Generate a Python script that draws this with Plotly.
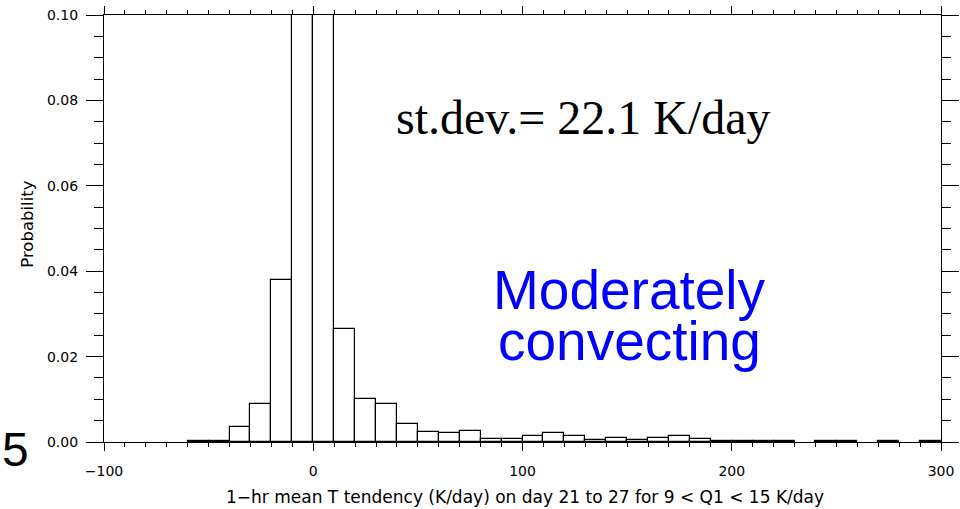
import plotly.graph_objects as go

# Histogram bins (left edges, K/day) and probabilities
bin_left = [-60, -50, -40, -30, -20, -10, 0, 10, 20, 30, 40, 50, 60, 70, 80, 90,
            100, 110, 120, 130, 140, 150, 160, 170, 180, 190, 200, 210, 220,
            240, 250, 270, 290]
prob = [0.0003, 0.0003, 0.0035, 0.0088, 0.0380, 0.4200, 0.4600, 0.0264, 0.0100,
        0.0088, 0.0042, 0.0023, 0.0020, 0.0026, 0.0007, 0.0007,
        0.0013, 0.0020, 0.0013, 0.0004, 0.0010, 0.0004, 0.0010, 0.0014, 0.0008,
        0.0003, 0.0003, 0.0003, 0.0003,
        0.0003, 0.0003, 0.0003, 0.0003]
bin_width = 10

x_ticks = [-100, 0, 100, 200, 300]
x_ticklabels = ["\u2212100", "0", "100", "200", "300"]
y_ticks = [0.00, 0.02, 0.04, 0.06, 0.08, 0.10]
y_ticklabels = ["0.00", "0.02", "0.04", "0.06", "0.08", "0.10"]

centers = [b + bin_width / 2 for b in bin_left]

fig = go.Figure()
fig.add_trace(go.Bar(
    x=centers, y=prob, width=bin_width,
    marker=dict(color="white", line=dict(color="black", width=1.2)),
    showlegend=False,
))

tickfont = dict(family="DejaVu Sans", size=14, color="black")

fig.update_layout(
    width=960, height=509,
    margin=dict(l=104, r=19, t=15, b=67, autoexpand=False),
    paper_bgcolor="white", plot_bgcolor="white",
    bargap=0,
    xaxis=dict(
        range=[-100, 300], tickvals=x_ticks, ticktext=x_ticklabels, automargin=False,
        showline=True, linecolor="black", linewidth=1.2, mirror="ticks",
        ticks="outside", ticklen=8, tickwidth=1.2, tickcolor="black",
        minor=dict(dtick=10, ticks="outside", ticklen=4, tickwidth=1.2, tickcolor="black"),
        showgrid=False, zeroline=False, tickfont=tickfont, ticklabelstandoff=8,
    ),
    yaxis=dict(
        range=[0, 0.1], tickvals=y_ticks, ticktext=y_ticklabels, automargin=False,
        showline=True, linecolor="black", linewidth=1.2, mirror="ticks",
        ticks="outside", ticklen=17, tickwidth=1.2, tickcolor="black",
        minor=dict(dtick=0.005, ticks="outside", ticklen=9, tickwidth=1.2, tickcolor="black"),
        showgrid=False, zeroline=False, tickfont=tickfont, ticklabelstandoff=5,
    ),
    annotations=[
        dict(text="st.dev.= 22.1 K/day", x=129, y=0.0760, xref="x", yref="y",
             xanchor="center", yanchor="middle",
             showarrow=False, font=dict(family="Liberation Serif", size=48, color="black")),
        dict(text="Moderately", x=151, y=0.0356, xref="x", yref="y",
             xanchor="center", yanchor="middle",
             showarrow=False, font=dict(family="Liberation Sans", size=55, color="#0000FF")),
        dict(text="convecting", x=151, y=0.0236, xref="x", yref="y",
             xanchor="center", yanchor="middle",
             showarrow=False, font=dict(family="Liberation Sans", size=55, color="#0000FF")),
        dict(text="5", x=-0.1063, y=-0.0185, xref="paper", yref="paper",
             xanchor="center", yanchor="middle",
             showarrow=False, font=dict(family="Liberation Sans", size=48, color="black")),
        dict(text="Probability", x=-0.0914, y=0.51, xref="paper", yref="paper", textangle=-90,
             xanchor="center", yanchor="middle",
             showarrow=False, font=dict(family="DejaVu Sans", size=16.5, color="black")),
        dict(text="1\u2212hr mean T tendency (K/day) on day 21 to 27 for 9 < Q1 < 15 K/day",
             x=0.503, y=-0.1296, xref="paper", yref="paper",
             xanchor="center", yanchor="middle",
             showarrow=False, font=dict(family="DejaVu Sans", size=17, color="black")),
    ],
)

fig.write_html("out.html")
